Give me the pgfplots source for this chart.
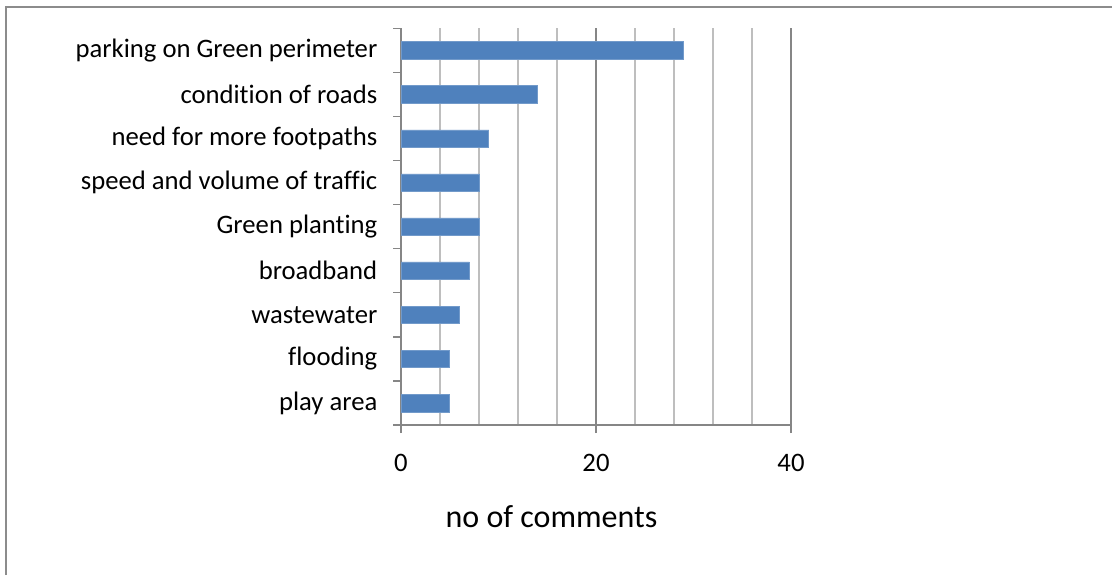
\documentclass[border=0pt]{standalone}
\usepackage{pgfplots}
\pgfplotsset{compat=1.18}
\usepackage{fontspec}
\setmainfont{Carlito}[Ligatures=NoCommon]
\definecolor{barblue}{HTML}{4F81BD}
\definecolor{framegray}{HTML}{8C8C8C}
\definecolor{axgray}{HTML}{868686}
\definecolor{minorgrid}{HTML}{BEBEBE}

% categories sit at half-integer positions so that y = 0 is the bottom edge
\pgfplotstableread{
pos value
0.5 5
1.5 5
2.5 6
3.5 7
4.5 8
5.5 8
6.5 9
7.5 14
8.5 29
}\comments

\begin{document}
\begin{tikzpicture}
\useasboundingbox (0pt,0pt) rectangle (834pt,431.25pt);
% outer chart frame
\draw[framegray, line width=1.5pt] (4.5pt,0pt) -- (4.5pt,426pt) -- (834pt,426pt);
\begin{axis}[
  at={(300.75pt,112.5pt)}, anchor=origin,
  scale only axis,
  width=292.5pt, height=297.4pt,
  xmin=0, xmax=40,
  ymin=0, ymax=9,
  axis x line*=bottom, axis y line*=left,
  axis line style={axgray, line width=1pt},
  xtick={0,20,40},
  minor xtick={4,8,...,36},
  xmajorgrids, xminorgrids,
  major grid style={axgray, line width=1pt},
  minor grid style={minorgrid, line width=1pt},
  minor x tick style={draw=none},
  ytick={0.5,1.5,...,8.5},
  yticklabels={play area, flooding, wastewater, broadband, Green planting,
    speed and volume of traffic, need for more footpaths,
    condition of roads, parking on Green perimeter},
  major y tick style={draw=none},
  minor ytick={0,1,...,9},
  minor y tick style={axgray, line width=1pt},
  major x tick style={axgray, line width=1pt},
  tick align=outside,
  major tick length=6pt,
  minor tick length=6pt,
  tick label style={font=\fontsize{20}{24}\selectfont, text=black},
  yticklabel style={anchor=east, xshift=-8.25pt},
  xticklabel style={anchor=base, yshift=-29pt},
  xlabel={no of comments},
  xlabel style={font=\fontsize{24}{28}\selectfont, at={(axis description cs:0.386,0)}, anchor=base, yshift=-77pt},
  /pgf/number format/assume math mode=true,
  clip=false,
]
\addplot[xbar, bar width=0.4, fill=barblue, draw=barblue!80!white] table[x=value, y=pos] {\comments};
\end{axis}
\end{tikzpicture}
\end{document}
